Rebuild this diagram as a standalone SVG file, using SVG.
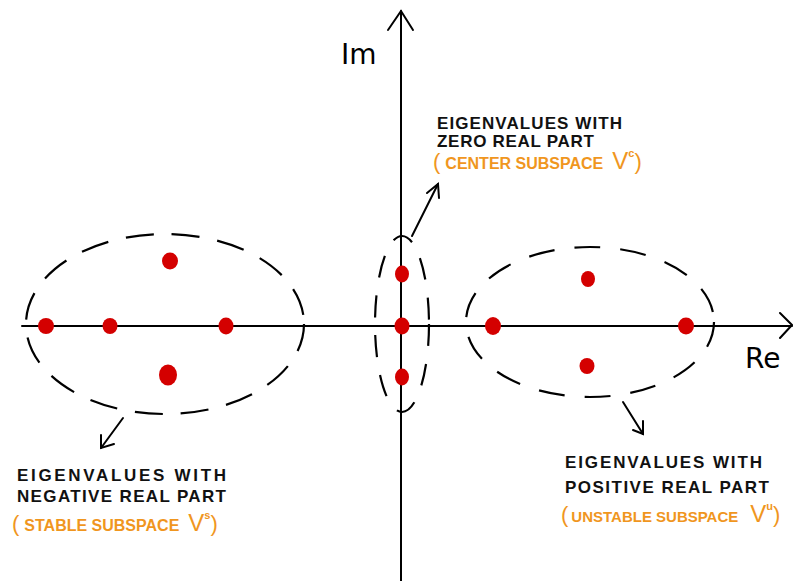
<svg xmlns="http://www.w3.org/2000/svg" width="793" height="581" viewBox="0 0 793 581">
<style>
.ax{stroke:#000;stroke-width:2;fill:none;stroke-linecap:round}
.el{stroke:#000;stroke-width:2.2;fill:none;stroke-dasharray:28 18}
.dot{fill:#d40000}
.t{font-family:"Liberation Sans","DejaVu Sans",sans-serif;font-size:17px;font-weight:bold;fill:#111;letter-spacing:1px}
.o{font-family:"Liberation Sans","DejaVu Sans",sans-serif;font-size:16px;font-weight:bold;fill:#f0961e}
.lab{font-family:"DejaVu Sans","Liberation Sans",sans-serif;font-size:28px;fill:#000}
</style>
<rect width="793" height="581" fill="#fff"/>
<g id="axes">
<line class="ax" x1="22" y1="326" x2="792" y2="326"/>
<polyline class="ax" points="780,313 792,325 780,338"/>
<line class="ax" x1="401" y1="581" x2="401" y2="11"/>
<polyline class="ax" points="388,30 401,11 413,30"/>
<text id="im" class="lab" x="341" y="64">Im</text>
<text id="re" class="lab" x="745" y="368">Re</text>
</g>
<g id="stable">
<ellipse class="el" cx="165" cy="324" rx="139" ry="90"/>
<ellipse class="dot" cx="46" cy="326" rx="8" ry="8"/>
<ellipse class="dot" cx="110" cy="326" rx="7.5" ry="8"/>
<ellipse class="dot" cx="226" cy="326" rx="7.5" ry="8.5"/>
<ellipse class="dot" cx="170" cy="261" rx="8" ry="8.5"/>
<ellipse class="dot" cx="168" cy="375" rx="9" ry="10.5"/>
<text class="t" x="17" y="481" textLength="210">EIGENVALUES WITH</text>
<text class="t" x="17" y="502" textLength="210">NEGATIVE REAL PART</text>
<text class="o" x="12" y="531"><tspan font-size="22" font-weight="normal">(</tspan><tspan dx="5">STABLE SUBSPACE</tspan><tspan dx="9" font-size="24" font-weight="normal">V</tspan><tspan font-size="11" dy="-12">s</tspan><tspan font-size="22" font-weight="normal" dy="12">)</tspan></text>
</g>
<g id="center">
<ellipse class="el" style="stroke-dasharray:22 18" cx="402" cy="324" rx="27" ry="88"/>
<ellipse class="dot" cx="402" cy="274" rx="7" ry="8.5"/>
<ellipse class="dot" cx="402" cy="326" rx="7.5" ry="8.5"/>
<ellipse class="dot" cx="402" cy="377" rx="7" ry="8.5"/>
<text class="t" x="437" y="129" textLength="186">EIGENVALUES WITH</text>
<text class="t" x="437" y="147" textLength="158">ZERO REAL PART</text>
<text class="o" x="433" y="169"><tspan font-size="22" font-weight="normal">(</tspan><tspan dx="5">CENTER SUBSPACE</tspan><tspan dx="9" font-size="24" font-weight="normal">V</tspan><tspan font-size="11" dy="-12">c</tspan><tspan font-size="22" font-weight="normal" dy="12">)</tspan></text>
</g>
<g id="unstable">
<ellipse class="el" style="stroke-dasharray:26 20" cx="590" cy="322" rx="124" ry="75"/>
<ellipse class="dot" cx="493" cy="326" rx="8" ry="9"/>
<ellipse class="dot" cx="686" cy="326" rx="8" ry="8.5"/>
<ellipse class="dot" cx="588" cy="279" rx="7" ry="8"/>
<ellipse class="dot" cx="587" cy="366" rx="7.5" ry="8"/>
<text class="t" x="565" y="468" textLength="198">EIGENVALUES WITH</text>
<text class="t" x="565" y="493" textLength="205">POSITIVE REAL PART</text>
<text class="o" x="561" y="522"><tspan font-size="22" font-weight="normal">(</tspan><tspan dx="3" font-size="15">UNSTABLE SUBSPACE</tspan><tspan dx="12" font-size="24" font-weight="normal">V</tspan><tspan font-size="11" dy="-12">u</tspan><tspan font-size="22" font-weight="normal" dy="12">)</tspan></text>
</g>
<g id="connectors" class="ax">
<line x1="412" y1="236" x2="438" y2="184"/>
<polyline points="427,193 438,184 439,198"/>
<line x1="123" y1="418" x2="101" y2="448"/>
<polyline points="101,435 101,448 114,444"/>
<line x1="623" y1="402" x2="643" y2="434"/>
<polyline points="633,430 643,434 643,421"/>
</g>
</svg>
